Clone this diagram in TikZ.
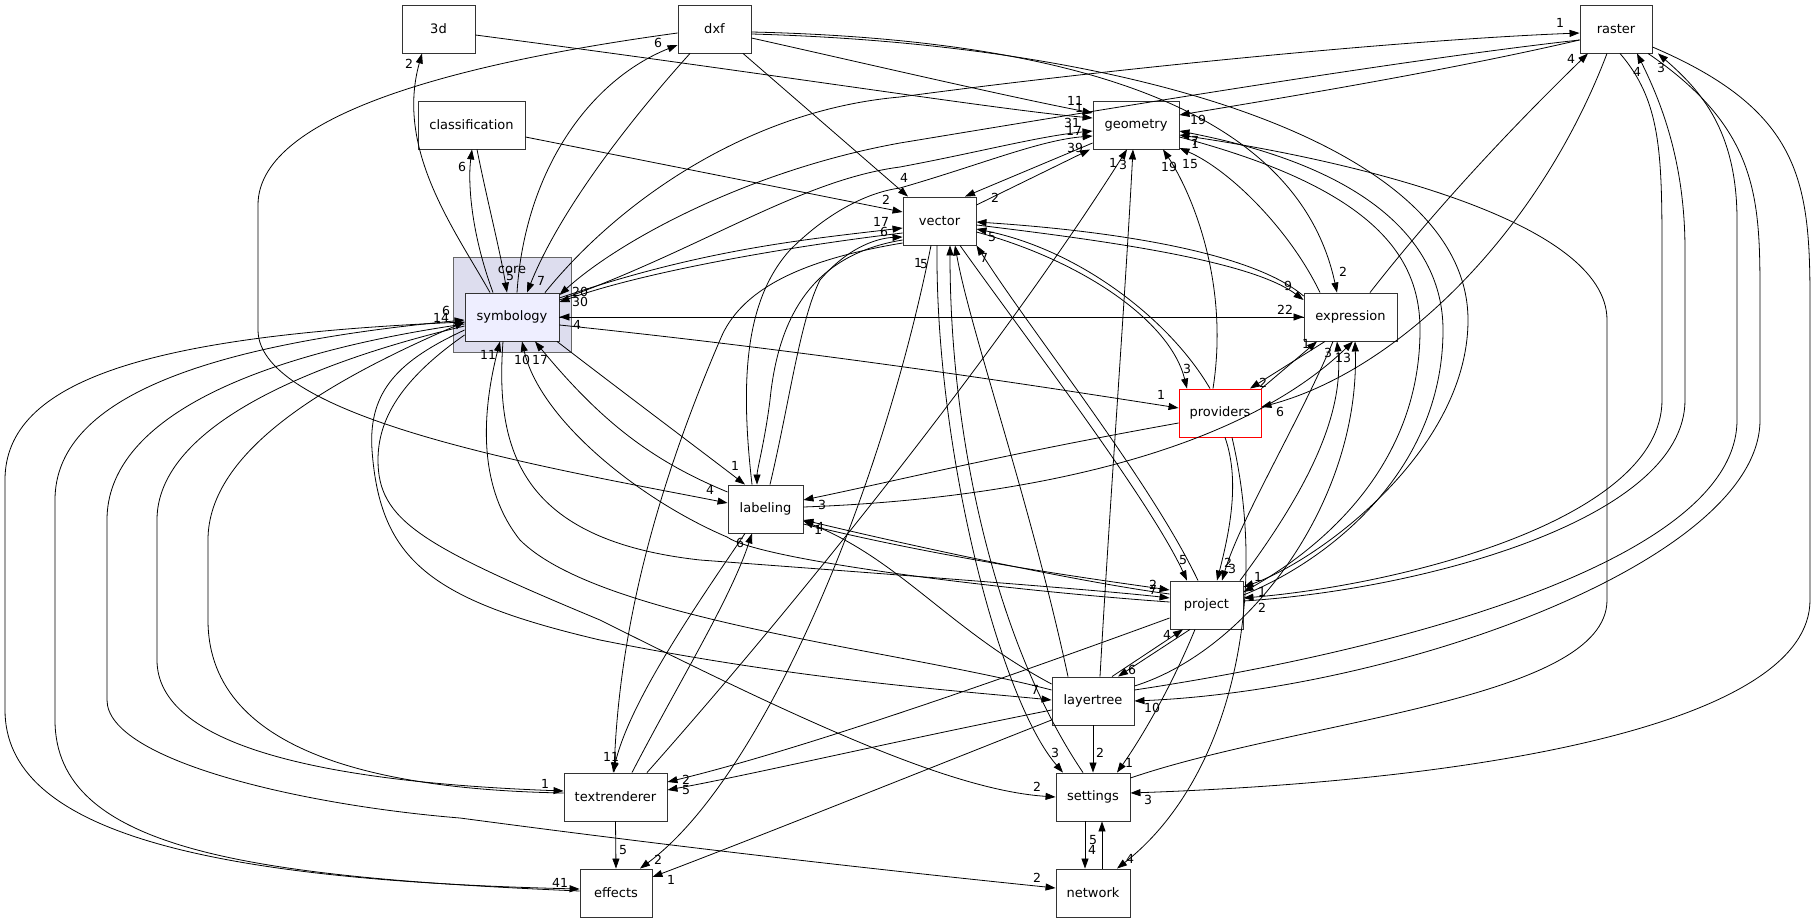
\documentclass[tikz,border=0pt]{standalone}
\usepackage{fontspec}
\setmainfont{DejaVu Sans}
\usetikzlibrary{arrows.meta}
\begin{document}
\begin{tikzpicture}[x=1pt,y=-1pt,
  box/.style={draw=black!80, line width=0.9pt, fill=white, minimum height=48pt, inner sep=0pt, font=\fontsize{13}{13}\selectfont},
  edge/.style={line width=0.8pt, -{Triangle[length=10pt,width=7pt]}},
  lbl/.style={font=\fontsize{12.5}{12.5}\selectfont, inner sep=0pt}]
\useasboundingbox[fill=white] (0,0) rectangle (1816,923);
% cluster
\node[draw=black!60, fill={rgb,255:red,221;green,221;blue,238}, line width=0.9pt, minimum width=118pt, minimum height=95pt, inner sep=0pt] (core) at (512,304.5) {};
\node[font=\fontsize{13}{13}\selectfont] (corelbl) at (512,270) {core};
% nodes
\node[box, minimum width=73pt] (d3) at (438.5,29) {3d};
\node[box, minimum width=73pt] (dxf) at (714.5,29) {dxf};
\node[box, minimum width=107pt] (cls) at (471.5,125) {classification};
\node[box, minimum width=94pt, fill={rgb,255:red,238;green,238;blue,255}] (sym) at (512,317) {symbology};
\node[box, minimum width=86pt] (geo) at (1136,125) {geometry};
\node[box, minimum width=73pt] (vec) at (939.5,221) {vector};
\node[box, minimum width=72pt] (ras) at (1616,29) {raster};
\node[box, minimum width=93pt] (exp) at (1350.5,317) {expression};
\node[box, minimum width=82pt, draw=red] (prov) at (1220,413) {providers};
\node[box, minimum width=75pt] (lab) at (765.5,509) {labeling};
\node[box, minimum width=73pt] (proj) at (1206.5,605) {project};
\node[box, minimum width=82pt] (lt) at (1093,701) {layertree};
\node[box, minimum width=74pt] (set) at (1093,797) {settings};
\node[box, minimum width=74pt] (net) at (1093,893) {network};
\node[box, minimum width=103pt] (txt) at (615.5,797) {textrenderer};
\node[box, minimum width=72pt] (eff) at (616,893) {effects};

% ---- edges ----
% symbology <-> 3d, dxf, classification
\draw[edge] (490,0 |- sym.north) .. controls (455,230) and (395,150) .. (422,0 |- d3.south);
\draw[edge] (d3.east |- 0,35) .. controls (780,75) and (1000,110) .. (geo.west |- 0,118);
\draw[edge] (517,0 |- sym.north) .. controls (525,170) and (590,80) .. (dxf.west |- 0,45);
\draw[edge] (690,0 |- dxf.south) .. controls (630,120) and (560,210) .. (527,0 |- sym.north);
\draw[edge] (dxf.west |- 0,33) .. controls (480,60) and (258,110) .. (258,205) -- (258,330) .. controls (258,420) and (560,470) .. (lab.west |- 0,503);
\draw[edge] (743,0 |- dxf.south) -- (908,0 |- vec.north);
\draw[edge] (dxf.east |- 0,38) .. controls (850,60) and (1000,95) .. (geo.west |- 0,113);
\draw[edge] (dxf.east |- 0,32) .. controls (1100,40) and (1300,120) .. (1337,0 |- exp.north);
\draw[edge] (dxf.east |- 0,34) .. controls (1150,45) and (1468,150) .. (1468,320) .. controls (1468,450) and (1320,560) .. (proj.east |- 0,587);
\draw[edge] (493,0 |- sym.north) .. controls (470,230) and (468,180) .. (472,0 |- cls.south);
\draw[edge] (477,0 |- cls.south) .. controls (487,200) and (500,250) .. (507,0 |- sym.north);
\draw[edge] (cls.east |- 0,137) -- (vec.west |- 0,212);
% symbology <-> raster
\draw[edge] (545,0 |- sym.north) .. controls (620,200) and (750,110) .. (900,97) .. controls (1100,70) and (1400,40) .. (ras.west |- 0,33);
\draw[edge] (ras.west |- 0,40) .. controls (1400,60) and (1100,110) .. (900,143) .. controls (750,170) and (620,240) .. (sym.east |- 0,295);
% raster others
\draw[edge] (ras.west |- 0,40) .. controls (1450,70) and (1300,95) .. (geo.east |- 0,115);
\draw[edge] (1370,0 |- exp.north) .. controls (1450,190) and (1540,100) .. (1588,0 |- ras.south);
\draw[edge] (1607,0 |- ras.south) .. controls (1540,230) and (1400,370) .. (prov.east |- 0,407);
\draw[edge] (1620,0 |- ras.south) .. controls (1660,100) and (1662,150) .. (1662,250) -- (1662,400) .. controls (1662,520) and (1400,585) .. (proj.east |- 0,598);
\draw[edge] (proj.east |- 0,601) .. controls (1420,590) and (1685,520) .. (1685,400) -- (1685,250) .. controls (1685,160) and (1660,100) .. (1637,0 |- ras.south);
\draw[edge] (lt.east |- 0,690) .. controls (1400,650) and (1737,560) .. (1737,420) -- (1737,220) .. controls (1737,130) and (1700,90) .. (1658,0 |- ras.south);
\draw[edge] (1648,0 |- ras.south) .. controls (1760,130) and (1760,200) .. (1760,300) -- (1760,420) .. controls (1760,560) and (1400,690) .. (lt.east |- 0,701);
\draw[edge] (ras.east |- 0,47) .. controls (1800,110) and (1810,180) .. (1810,300) -- (1810,600) .. controls (1810,720) and (1500,780) .. (set.east |- 0,793);
\draw[edge] (set.east |- 0,778) .. controls (1300,720) and (1607,700) .. (1607,600) -- (1607,320) .. controls (1607,220) and (1350,160) .. (geo.east |- 0,135);
% geometry <-> project
\draw[edge] (geo.east |- 0,137) .. controls (1380,190) and (1420,260) .. (1420,330) .. controls (1420,480) and (1300,560) .. (proj.east |- 0,592);
\draw[edge] (proj.east |- 0,595) .. controls (1330,560) and (1443,470) .. (1443,330) .. controls (1443,250) and (1380,170) .. (geo.east |- 0,131);
% vector <-> geometry
\draw[edge] (vec.east |- 0,205) -- (1090,0 |- geo.south);
\draw[edge] (geo.west |- 0,143) -- (965,0 |- vec.north);
% symbology <-> geometry, vector
\draw[edge] (sym.east |- 0,300) .. controls (700,250) and (800,180) .. (900,167) .. controls (980,152) and (1040,136) .. (geo.west |- 0,131);
\draw[edge] (sym.east |- 0,298) .. controls (700,250) and (800,240) .. (vec.west |- 0,228);
\draw[edge] (vec.west |- 0,233) .. controls (800,245) and (650,270) .. (sym.east |- 0,302);
% labeling <-> vector, geometry, textrenderer
\draw[edge] (770,0 |- lab.north) .. controls (790,400) and (800,320) .. (820,280) .. controls (850,245) and (880,238) .. (vec.west |- 0,237);
\draw[edge] (vec.west |- 0,240) .. controls (810,255) and (778,320) .. (770,400) .. controls (765,440) and (757,470) .. (757,0 |- lab.north);
\draw[edge] (752,0 |- lab.north) .. controls (740,380) and (745,300) .. (790,250) .. controls (830,210) and (870,192) .. (900,188) .. controls (980,165) and (1040,140) .. (geo.west |- 0,136);
\draw[edge] (vec.west |- 0,243) .. controls (800,260) and (740,290) .. (720,340) .. controls (660,480) and (620,620) .. (614,0 |- txt.north);
\draw[edge] (745,0 |- lab.south) .. controls (700,600) and (630,700) .. (613,0 |- txt.north);
\draw[edge] (632,0 |- txt.north) .. controls (680,680) and (730,600) .. (752,0 |- lab.south);
\draw[edge] (647,0 |- txt.north) .. controls (800,600) and (1000,350) .. (1127,0 |- geo.south);
\draw[edge] (1100,0 |- lt.north) .. controls (1110,500) and (1125,300) .. (1133,0 |- geo.south);
\draw[edge] (1213,0 |- prov.north) .. controls (1230,280) and (1190,190) .. (1163,0 |- geo.south);
\draw[edge] (1320,0 |- exp.north) .. controls (1290,230) and (1230,170) .. (geo.east |- 0,148);
% vector <-> expression, providers
\draw[edge] (vec.east |- 0,225) .. controls (1100,240) and (1250,260) .. (exp.west |- 0,300);
\draw[edge] (exp.west |- 0,296) .. controls (1250,250) and (1100,230) .. (vec.east |- 0,222);
\draw[edge] (vec.east |- 0,232) .. controls (1080,260) and (1170,320) .. (1187,0 |- prov.north);
\draw[edge] (1210,0 |- prov.north) .. controls (1170,320) and (1080,250) .. (vec.east |- 0,229);
% symbology <-> expression, providers, labeling
\draw[edge] (sym.east |- 0,317) -- (exp.west |- 0,317);
\draw[edge] (exp.west |- 0,317) -- (sym.east |- 0,317);
\draw[edge] (sym.east |- 0,325) .. controls (800,350) and (1000,380) .. (prov.west |- 0,408);
\draw[edge] (557,0 |- sym.south) .. controls (620,390) and (700,450) .. (745,0 |- lab.north);
\draw[edge] (lab.west |- 0,492) .. controls (650,460) and (600,420) .. (535,0 |- sym.south);
\draw[edge] (prov.west |- 0,423) .. controls (1000,455) and (900,480) .. (lab.east |- 0,500);
\draw[edge] (lab.east |- 0,507) .. controls (1000,500) and (1230,460) .. (1353,0 |- exp.south);
\draw[edge] (lab.east |- 0,524) .. controls (950,560) and (1100,580) .. (proj.west |- 0,590);
\draw[edge] (proj.west |- 0,594) .. controls (1100,585) and (950,555) .. (lab.east |- 0,520);
\draw[edge] (lt.west |- 0,684) .. controls (950,630) and (900,560) .. (lab.east |- 0,521);
\draw[edge] (503,0 |- sym.south) .. controls (495,450) and (520,540) .. (700,560) .. controls (900,575) and (1100,590) .. (proj.west |- 0,598);
\draw[edge] (proj.west |- 0,602) .. controls (1000,590) and (760,560) .. (727,537) .. controls (640,500) and (540,420) .. (522,0 |- sym.south);
\draw[edge] (lt.west |- 0,690) .. controls (900,650) and (600,620) .. (520,540) .. controls (480,490) and (480,420) .. (500,0 |- sym.south);
% symbology left side
\draw[edge] (sym.west |- 0,322) .. controls (150,335) and (5,380) .. (5,480) -- (5,710) .. controls (5,830) and (200,880) .. (eff.west |- 0,889);
\draw[edge] (eff.west |- 0,891) .. controls (250,877) and (55,850) .. (55,720) -- (55,500) .. controls (55,400) and (200,345) .. (sym.west |- 0,320);
\draw[edge] (sym.west |- 0,324) .. controls (250,355) and (107,420) .. (107,520) -- (107,700) .. controls (107,760) and (300,805) .. (460,818) .. controls (700,850) and (900,872) .. (net.west |- 0,888);
\draw[edge] (sym.west |- 0,326) .. controls (300,365) and (157,430) .. (157,520) -- (157,660) .. controls (157,745) and (320,782) .. (txt.west |- 0,791);
\draw[edge] (txt.west |- 0,793) .. controls (400,790) and (208,760) .. (208,620) -- (208,540) .. controls (208,450) and (330,380) .. (sym.west |- 0,322);
\draw[edge] (sym.west |- 0,330) .. controls (400,360) and (368,390) .. (372,450) .. controls (380,560) and (430,600) .. (600,640) .. controls (800,680) and (950,690) .. (lt.west |- 0,700);
\draw[edge] (sym.west |- 0,335) .. controls (400,380) and (378,420) .. (378,460) .. controls (378,520) and (420,545) .. (600,620) .. controls (800,720) and (950,790) .. (set.west |- 0,797);
% lower area
\draw[edge] (lt.west |- 0,710) .. controls (900,740) and (750,775) .. (txt.east |- 0,790);
\draw[edge] (proj.west |- 0,618) .. controls (1000,680) and (800,750) .. (txt.east |- 0,782);
\draw[edge] (lt.west |- 0,720) .. controls (900,780) and (750,840) .. (eff.east |- 0,877);
\draw[edge] (txt.south) -- (eff.north);
\draw[edge] (931,0 |- vec.south) .. controls (880,500) and (760,780) .. (640,0 |- eff.north);
% vector <-> project, settings, layertree
\draw[edge] (960,0 |- vec.south) .. controls (1020,330) and (1150,500) .. (1187,0 |- proj.north);
\draw[edge] (1198,0 |- proj.north) .. controls (1150,480) and (1030,330) .. (vec.south east);
\draw[edge] (937,0 |- vec.south) .. controls (935,450) and (1000,700) .. (1063,0 |- set.north);
\draw[edge] (1083,0 |- set.north) .. controls (1000,650) and (950,450) .. (950,0 |- vec.south);
\draw[edge] (1068,0 |- lt.north) .. controls (1030,500) and (970,330) .. (955,0 |- vec.south);
% project, providers, expression
\draw[edge] (1225,0 |- prov.south) .. controls (1240,480) and (1230,530) .. (1217,0 |- proj.north);
\draw[edge] (1333,0 |- exp.south) .. controls (1300,420) and (1240,520) .. (1222,0 |- proj.north);
\draw[edge] (1240,0 |- proj.north) .. controls (1300,500) and (1345,420) .. (1337,0 |- exp.south);
\draw[edge] (lt.east |- 0,686) .. controls (1250,650) and (1360,500) .. (1355,0 |- exp.south);
\draw[edge] (prov.north east) -- (1317,0 |- exp.south);
\draw[edge] (1325,0 |- exp.south) -- (1250,0 |- prov.north);
\draw[edge] (1232,0 |- prov.south) .. controls (1270,600) and (1230,780) .. (1117,0 |- net.north);
% project <-> layertree, settings
\draw[edge] (1112,0 |- lt.north) -- (1183,0 |- proj.south);
\draw[edge] (1190,0 |- proj.south) -- (1118,0 |- lt.north);
\draw[edge] (1195,0 |- proj.south) .. controls (1170,690) and (1140,740) .. (1117,0 |- set.north);
\draw[edge] (lt.south) -- (set.north);
\draw[edge] (1085,0 |- set.south) -- (1085,0 |- net.north);
\draw[edge] (1102,0 |- net.north) -- (1102,0 |- set.south);

% ---- labels ----
\node[lbl] (l1) at (409,64) {2};
\node[lbl] (l2) at (1079,108) {1};
\node[lbl] (l3) at (658,43) {6};
\node[lbl] (l4) at (541,281) {7};
\node[lbl] (l5) at (710,490) {4};
\node[lbl] (l6) at (904,178) {4};
\node[lbl] (l7) at (1075,101) {11};
\node[lbl] (l8) at (1343,272) {2};
\node[lbl] (l9) at (1258,577) {1};
\node[lbl] (l10) at (462,167) {6};
\node[lbl] (l11) at (510,276) {5};
\node[lbl] (l12) at (886,200) {2};
\node[lbl] (l13) at (1560,23) {1};
\node[lbl] (l14) at (580,292) {20};
\node[lbl] (l15) at (1198,120) {19};
\node[lbl] (l16) at (1571,59) {4};
\node[lbl] (l17) at (1280,412) {6};
\node[lbl] (l18) at (1262,608) {2};
\node[lbl] (l19) at (1637,72) {4};
\node[lbl] (l20) at (1661,68) {3};
\node[lbl] (l21) at (1152,708) {10};
\node[lbl] (l22) at (1148,800) {3};
\node[lbl] (l23) at (1195,141) {7};
\node[lbl] (l24) at (1262,592) {1};
\node[lbl] (l25) at (1195,144) {1};
\node[lbl] (l26) at (1075,148) {39};
\node[lbl] (l27) at (995,198) {2};
\node[lbl] (l28) at (1072,123) {31};
\node[lbl] (l29) at (881,222) {17};
\node[lbl] (l30) at (580,302) {30};
\node[lbl] (l31) at (884,232) {6};
\node[lbl] (l32) at (1074,131) {17};
\node[lbl] (l33) at (611,757) {11};
\node[lbl] (l34) at (740,543) {6};
\node[lbl] (l35) at (1113,163) {1};
\node[lbl] (l36) at (1123,165) {3};
\node[lbl] (l37) at (1169,167) {19};
\node[lbl] (l38) at (1190,164) {15};
\node[lbl] (l39) at (1288,286) {9};
\node[lbl] (l40) at (992,237) {5};
\node[lbl] (l41) at (1187,369) {3};
\node[lbl] (l42) at (1285,310) {22};
\node[lbl] (l43) at (577,325) {4};
\node[lbl] (l44) at (1161,395) {1};
\node[lbl] (l45) at (735,466) {1};
\node[lbl] (l46) at (540,360) {17};
\node[lbl] (l47) at (822,505) {3};
\node[lbl] (l48) at (1328,353) {3};
\node[lbl] (l49) at (1153,585) {2};
\node[lbl] (l50) at (818,530) {1};
\node[lbl] (l51) at (820,527) {4};
\node[lbl] (l52) at (1153,590) {7};
\node[lbl] (l53) at (522,360) {10};
\node[lbl] (l54) at (488,355) {11};
\node[lbl] (l55) at (560,883) {41};
\node[lbl] (l56) at (446,311) {6};
\node[lbl] (l57) at (1037,878) {2};
\node[lbl] (l58) at (545,784) {1};
\node[lbl] (l59) at (441,318) {14};
\node[lbl] (l60) at (1035,690) {7};
\node[lbl] (l61) at (1037,787) {2};
\node[lbl] (l62) at (686,790) {5};
\node[lbl] (l63) at (686,780) {2};
\node[lbl] (l64) at (671,880) {1};
\node[lbl] (l65) at (623,850) {5};
\node[lbl] (l66) at (658,860) {2};
\node[lbl] (l67) at (1183,560) {5};
\node[lbl] (l68) at (984,258) {7};
\node[lbl] (l69) at (1055,753) {3};
\node[lbl] (l70) at (918,263) {1};
\node[lbl] (l71) at (924,264) {5};
\node[lbl] (l72) at (1228,563) {2};
\node[lbl] (l73) at (1232,569) {3};
\node[lbl] (l74) at (1343,358) {13};
\node[lbl] (l75) at (1306,344) {1};
\node[lbl] (l76) at (1263,383) {2};
\node[lbl] (l77) at (1130,859) {4};
\node[lbl] (l78) at (1167,635) {4};
\node[lbl] (l79) at (1132,670) {6};
\node[lbl] (l80) at (1129,763) {1};
\node[lbl] (l81) at (1100,753) {2};
\node[lbl] (l82) at (1092,850) {4};
\node[lbl] (l83) at (1093,840) {5};
\end{tikzpicture}
\end{document}
